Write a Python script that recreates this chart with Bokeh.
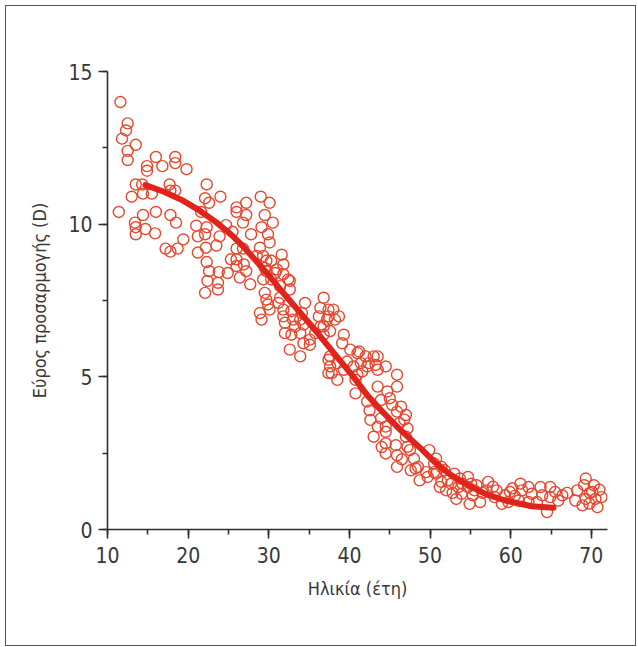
from bokeh.plotting import figure
from bokeh.models import Range1d, SingleIntervalTicker
from bokeh.embed import file_html
from bokeh.resources import INLINE

# ---- data ----
age = [
    11.6, 12.5, 12.3, 11.8, 12.5, 13.5, 12.5, 14.9, 14.9, 16.0, 16.8, 18.4, 18.4, 19.8,
    13.5, 14.3, 14.4, 13.0, 15.5, 11.4, 13.4, 13.5, 13.5, 14.4, 14.7, 15.9, 16.0, 17.7,
    17.8, 18.4, 17.8, 18.5, 17.2, 17.8, 18.7, 19.4, 22.3, 22.1, 22.6, 24.0, 21.0, 21.2,
    22.3, 22.1, 23.5, 21.2, 22.3, 22.6, 23.8, 22.4, 23.7, 22.1, 23.7, 24.7, 25.5, 24.9,
    26.0, 26.0, 27.2, 27.2, 26.8, 27.8, 29.0, 30.1, 29.5, 30.5, 29.1, 29.9, 26.0, 26.0,
    26.9, 27.2, 26.4, 27.7, 28.9, 30.1, 29.3, 30.3, 28.5, 29.7, 30.8, 29.5, 29.7, 28.9,
    30.1, 23.9, 26.0, 26.8, 31.6, 29.7, 31.8, 25.3, 29.5, 31.0, 31.8, 29.3, 30.3, 31.4,
    32.6, 32.6, 31.4, 29.9, 29.1, 31.8, 31.8, 32.0, 32.8, 33.0, 33.25, 32.0, 32.8, 34.5,
    34.1, 34.3, 33.9, 35.1, 34.3, 32.6, 33.9, 36.4, 36.8, 38.0, 37.4, 38.7, 36.2, 36.8,
    35.75, 36.8, 39.3, 39.1, 40.1, 41.0, 42.0, 43.0, 37.6, 38.5, 39.7, 37.6, 37.8, 39.3,
    40.5, 41.4, 42.2, 43.25, 41.0, 22.2, 21.6, 31.2, 32.4, 33.9, 37.4, 37.2, 36.4, 37.6,
    38.2, 35.1, 37.4, 37.4, 41.2, 43.5, 42.4, 44.5, 43.5, 45.9, 38.5, 40.75, 41.6, 43.5,
    45.9, 44.7, 40.75, 42.2, 43.9, 45.3, 46.4, 45.9, 42.6, 43.9, 43.5, 44.5, 44.5, 46.2,
    47.0, 47.2, 47.0, 43.0, 44.5, 44.5, 45.75, 45.9, 45.9, 47.2, 48.0, 48.5, 47.6, 49.9,
    50.75, 51.4, 50.5, 48.7, 49.7, 51.2, 52.2, 53.0, 53.7, 54.7, 53.5, 55.1, 55.5, 45.0,
    46.8, 44.0, 46.5, 42.5, 47.5, 48.2, 50.5, 49.5, 50.75, 51.8, 51.4, 52.6, 54.7, 52.0,
    53.25, 53.9, 55.3, 55.75, 57.2, 57.0, 58.25, 58.0, 59.3, 59.9, 61.2, 61.4, 62.2, 62.6,
    61.0, 62.2, 63.7, 63.9, 64.9, 64.9, 63.25, 64.5, 65.5, 66.4, 68.25, 69.3, 69.1, 70.3,
    70.1, 69.3, 70.5, 71.25, 68.9, 70.75, 69.75, 68.0, 59.7, 58.9, 56.2, 54.9, 56.5, 57.8,
    60.5, 60.2, 65.9, 67.0, 71.0, 69.8, 52.8, 54.0,
]
amplitude = [
    14.0, 13.3, 13.07, 12.8, 12.4, 12.6, 12.1, 11.9, 11.75, 12.2, 11.9, 12.2, 12.0, 11.8,
    11.3, 11.3, 11.0, 10.9, 11.0, 10.4, 10.05, 9.9, 9.67, 10.3, 9.84, 9.7, 10.4, 11.3,
    11.1, 11.1, 10.3, 10.05, 9.2, 9.1, 9.2, 9.5, 11.3, 10.85, 10.7, 10.9, 9.95, 9.6,
    9.9, 9.67, 9.3, 9.07, 8.76, 8.46, 8.43, 8.14, 8.08, 7.75, 7.86, 9.97, 9.75, 8.4,
    10.55, 10.4, 10.7, 10.3, 10.05, 9.67, 10.9, 10.7, 10.3, 10.05, 9.9, 9.67, 8.85, 8.63,
    8.68, 8.46, 8.25, 8.03, 9.23, 9.4, 8.96, 8.8, 8.96, 8.46, 8.4, 7.75, 7.53, 7.09,
    7.2, 9.6, 9.2, 9.2, 9.0, 8.8, 8.68, 8.85, 8.57, 8.52, 8.36, 8.19, 8.19, 7.97,
    8.14, 7.86, 7.59, 7.37, 6.875, 7.2, 6.98, 6.77, 7.15, 6.875, 6.65, 6.43, 6.38, 7.42,
    7.09, 6.71, 6.43, 6.22, 6.1, 5.89, 5.67, 7.26, 7.59, 7.2, 6.98, 6.98, 6.98, 6.65,
    6.43, 6.38, 6.38, 6.1, 5.89, 5.78, 5.67, 5.67, 5.67, 5.45, 5.5, 5.34, 5.12, 5.23,
    5.34, 5.45, 5.34, 5.39, 5.07, 9.23, 10.4, 7.42, 8.19, 6.875, 7.2, 6.875, 6.65, 6.5,
    6.875, 6.05, 5.56, 5.12, 5.83, 5.67, 5.45, 5.34, 5.23, 5.07, 4.9, 4.9, 5.18, 4.68,
    4.68, 4.52, 4.46, 4.19, 4.24, 4.08, 4.02, 3.86, 3.59, 3.64, 3.37, 3.37, 3.2, 3.48,
    3.75, 3.31, 3.04, 3.04, 2.82, 2.49, 2.76, 2.43, 2.05, 2.71, 2.32, 2.05, 1.94, 2.6,
    2.32, 2.05, 1.88, 1.61, 1.72, 1.39, 1.61, 1.83, 1.67, 1.72, 1.39, 1.5, 1.28, 4.3,
    3.6, 2.7, 2.3, 3.9, 2.6, 2.0, 2.16, 1.88, 1.83, 1.94, 1.56, 1.5, 1.39, 1.28,
    1.0, 1.17, 1.12, 1.45, 1.56, 1.28, 1.28, 1.06, 1.12, 1.23, 1.5, 1.28, 1.39, 1.17,
    0.95, 0.9, 1.39, 1.12, 1.39, 1.06, 0.9, 0.57, 1.23, 1.12, 1.28, 1.67, 1.45, 1.45,
    1.23, 1.0, 1.0, 1.06, 0.79, 0.73, 0.85, 0.95, 0.9, 0.84, 0.9, 0.84, 1.2, 1.4,
    1.1, 1.35, 0.95, 1.2, 1.3, 1.2, 1.2, 1.5,
]
fit_age = [14.7, 17.0, 19.3, 21.4, 23.5, 25.5, 27.0, 29.7, 31.4, 33.9, 36.0, 38.0,
           40.5, 42.2, 44.3, 46.4, 48.9, 50.5, 52.5, 54.7, 57.0, 59.3, 62.6, 65.3]
fit_amp = [11.28, 11.06, 10.78, 10.45, 10.06, 9.62, 9.22, 8.42, 7.87, 7.1, 6.45, 5.8,
           5.0, 4.4, 3.8, 3.24, 2.64, 2.22, 1.8, 1.45, 1.15, 0.95, 0.76, 0.71]

x_label = "Ηλικία (έτη)"
y_label = "Εύρος προσαρμογής (D)"

FONT = "Liberation Sans Narrow, DejaVu Sans Condensed, Roboto, sans-serif"
TXT = "#383838"

p = figure(width=631, height=641, output_backend="svg", toolbar_location=None,
           x_range=Range1d(10, 72), y_range=Range1d(0, 15),
           min_border_left=101, min_border_right=30, min_border_top=65,
           min_border_bottom=118)
p.styles = {"border": "1px solid #555555", "margin": "5px 0 0 5px"}
p.grid.visible = False
p.outline_line_color = None
p.background_fill_color = "white"
p.border_fill_color = "white"

p.scatter(age, amplitude, size=11, marker="circle", fill_color=None,
          line_color="#e5482f", line_width=1.4)
p.line(fit_age, fit_amp, line_color="#e0241b", line_width=6, line_cap="round")

p.xaxis.ticker = SingleIntervalTicker(interval=10, num_minor_ticks=2)
p.yaxis.ticker = SingleIntervalTicker(interval=5, num_minor_ticks=2)
for ax in (p.xaxis[0], p.yaxis[0]):
    ax.axis_line_color = "#2e2e2e"
    ax.axis_line_width = 1.6
    ax.major_tick_line_color = "#2e2e2e"
    ax.major_tick_line_width = 1.6
    ax.minor_tick_line_color = "#2e2e2e"
    ax.minor_tick_line_width = 1.6
    ax.major_tick_in = 0
    ax.major_tick_out = 9
    ax.minor_tick_in = 0
    ax.minor_tick_out = 5
    ax.major_label_text_font = FONT
    ax.major_label_text_font_size = "21px"
    ax.major_label_text_color = TXT
    ax.axis_label_text_font = FONT
    ax.axis_label_text_font_size = "18px"
    ax.axis_label_text_font_style = "normal"
    ax.axis_label_text_color = TXT
p.xaxis.axis_label = x_label
p.yaxis.axis_label = y_label
p.xaxis.major_label_standoff = 8
p.yaxis.major_label_standoff = 6
p.xaxis.axis_label_standoff = 12
p.yaxis.axis_label_standoff = 15

open("out.html", "w").write(file_html(p, INLINE))
